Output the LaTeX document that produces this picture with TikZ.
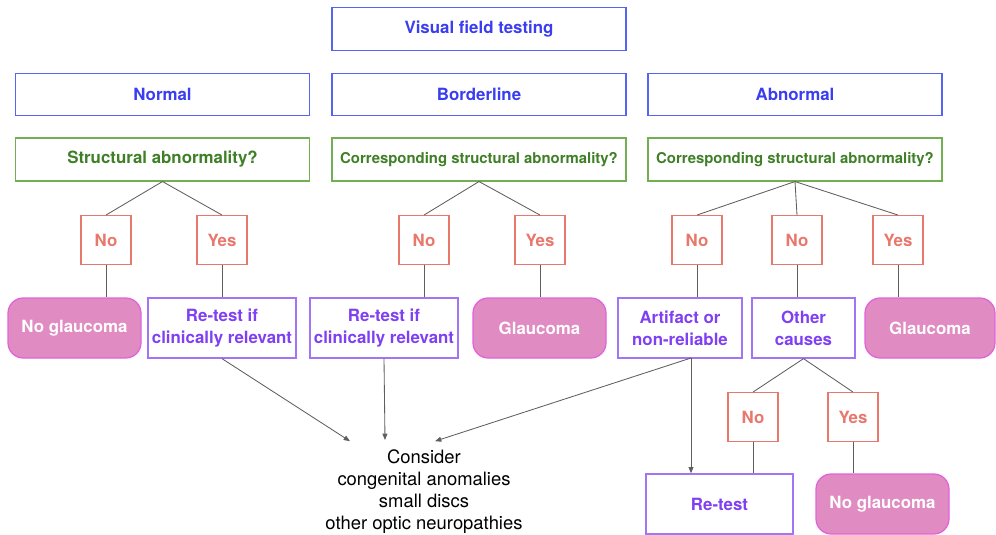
\documentclass[tikz,border=0pt]{standalone}
\usepackage{fontspec}
\setmainfont{TeX Gyre Heros}
\usetikzlibrary{arrows.meta}

\definecolor{vfblue}{HTML}{3A3DF0}
\definecolor{vfblueline}{HTML}{5565F2}
\definecolor{qgreen}{HTML}{3F7F26}
\definecolor{qgreenline}{HTML}{72AE52}
\definecolor{ansred}{HTML}{E8776C}
\definecolor{actpurple}{HTML}{7F3FF2}
\definecolor{actpurpleline}{HTML}{A274F6}
\definecolor{dxfill}{HTML}{E08BC1}
\definecolor{dxline}{HTML}{E162DD}
\definecolor{linkgray}{HTML}{5E5E5E}

\tikzset{
  boxfont/.style={font=\bfseries\fontsize{12}{15.5}\selectfont},
  vfbox/.style={draw=vfblueline, line width=0.9pt, text=vfblue, boxfont,
    minimum width=7.35cm, minimum height=1.06cm},
  qbox/.style={draw=qgreenline, line width=0.9pt, text=qgreen, boxfont,
    minimum width=7.35cm, minimum height=1.07cm},
  ansbox/.style={draw=ansred, line width=0.8pt, text=ansred, boxfont,
    minimum width=1.25cm, minimum height=1.22cm},
  actbox/.style={draw=actpurpleline, line width=0.9pt, text=actpurple, boxfont,
    align=center, minimum height=1.5cm, inner sep=1pt},
  dxbox/.style={draw=dxline, line width=0.9pt, fill=dxfill, text=white, boxfont,
    rounded corners=0.38cm, minimum height=1.5cm},
  link/.style={draw=linkgray, line width=0.6pt},
  linkarrow/.style={link, -{Triangle[length=4.5pt, width=3.5pt]}}
}

\begin{document}
\begin{tikzpicture}
    \useasboundingbox (0,0) rectangle (24.9,-13.35);

    % Top box and the three result classes
    \node[vfbox] (vft) at (11.975,-0.725) {Visual field testing};
    \node[vfbox] (normal) at (4.0625,-2.3625) {Normal};
    \node[vfbox] (border) at (11.975,-2.3625) {Borderline};
    \node[vfbox] (abnorm) at (19.875,-2.3625) {Abnormal};

    % Structural questions
    \node[qbox] (qn) at (4.0625,-3.9875) {Structural abnormality?};
    \node[qbox, font=\bfseries\fontsize{10.6}{12}\selectfont] (qb) at (11.975,-3.9875) {Corresponding structural abnormality?};
    \node[qbox, font=\bfseries\fontsize{10.6}{12}\selectfont] (qa) at (19.875,-3.9875) {Corresponding structural abnormality?};

    % Answers
    \node[ansbox] (nno) at (2.65,-6.0) {No};
    \node[ansbox] (nyes) at (5.55,-6.0) {Yes};
    \node[ansbox] (bno) at (10.6,-6.0) {No};
    \node[ansbox] (byes) at (13.5,-6.0) {Yes};
    \node[ansbox] (ano) at (17.425,-6.0) {No};
    \node[ansbox] (ano2) at (19.925,-6.0) {No};
    \node[ansbox] (ayes) at (22.45,-6.0) {Yes};

    % Outcomes
    \node[dxbox, minimum width=3.325cm] (nglc) at (1.8625,-8.2) {No glaucoma};
    \node[actbox, minimum width=3.7cm] (nret) at (5.55,-8.2) {Re-test if\\clinically relevant};
    \node[actbox, minimum width=3.7cm] (bret) at (9.6,-8.2) {Re-test if\\clinically relevant};
    \node[dxbox, minimum width=3.325cm] (bglc) at (13.4875,-8.2) {Glaucoma};
    \node[actbox, minimum width=3.1cm] (art) at (17.0,-8.2) {Artifact or\\non-reliable};
    \node[actbox, minimum width=2.575cm] (other) at (20.0875,-8.2) {Other\\causes};
    \node[dxbox, minimum width=3.25cm] (aglc) at (23.25,-8.2) {Glaucoma};

    % Other causes branch
    \node[ansbox] (ono) at (18.825,-10.425) {No};
    \node[ansbox] (oyes) at (21.325,-10.425) {Yes};
    \node[actbox, minimum width=3.675cm] (retest) at (17.9875,-12.6) {Re-test};
    \node[dxbox, minimum width=3.325cm] (oglc) at (22.0625,-12.6) {No glaucoma};

    % Consider text
    \node[align=center, font=\fontsize{13.1}{15.6}\selectfont] (cons) at (10.6,-12.3) {Consider\\congenital anomalies\\small discs\\other optic neuropathies};
    \coordinate (consl) at (8.75,-11.03);
    \coordinate (consm) at (9.625,-11.0);
    \coordinate (consr) at (10.875,-11.03);
    \coordinate (artout) at (17.275,-8.95);

    % Tree links
    \foreach \q/\a in {qn/nno, qn/nyes, qb/bno, qb/byes, qa/ano, qa/ano2, qa/ayes, other/ono, other/oyes}
        \draw[link] (\q.south) -- (\a.north);
    \foreach \a/\r in {nno/nglc, nyes/nret, bno/bret, byes/bglc, ano/art, ano2/other, ayes/aglc, ono/retest, oyes/oglc}
        \draw[link] (\a.south) -- (\a.south |- \r.north);

    % Arrows to the advice
    \draw[linkarrow] (nret.south) -- (consl);
    \draw[linkarrow] (bret.south) -- (consm);
    \draw[linkarrow] (artout) -- (consr);
    \draw[linkarrow] (artout) -- (artout |- retest.north);
\end{tikzpicture}
\end{document}
